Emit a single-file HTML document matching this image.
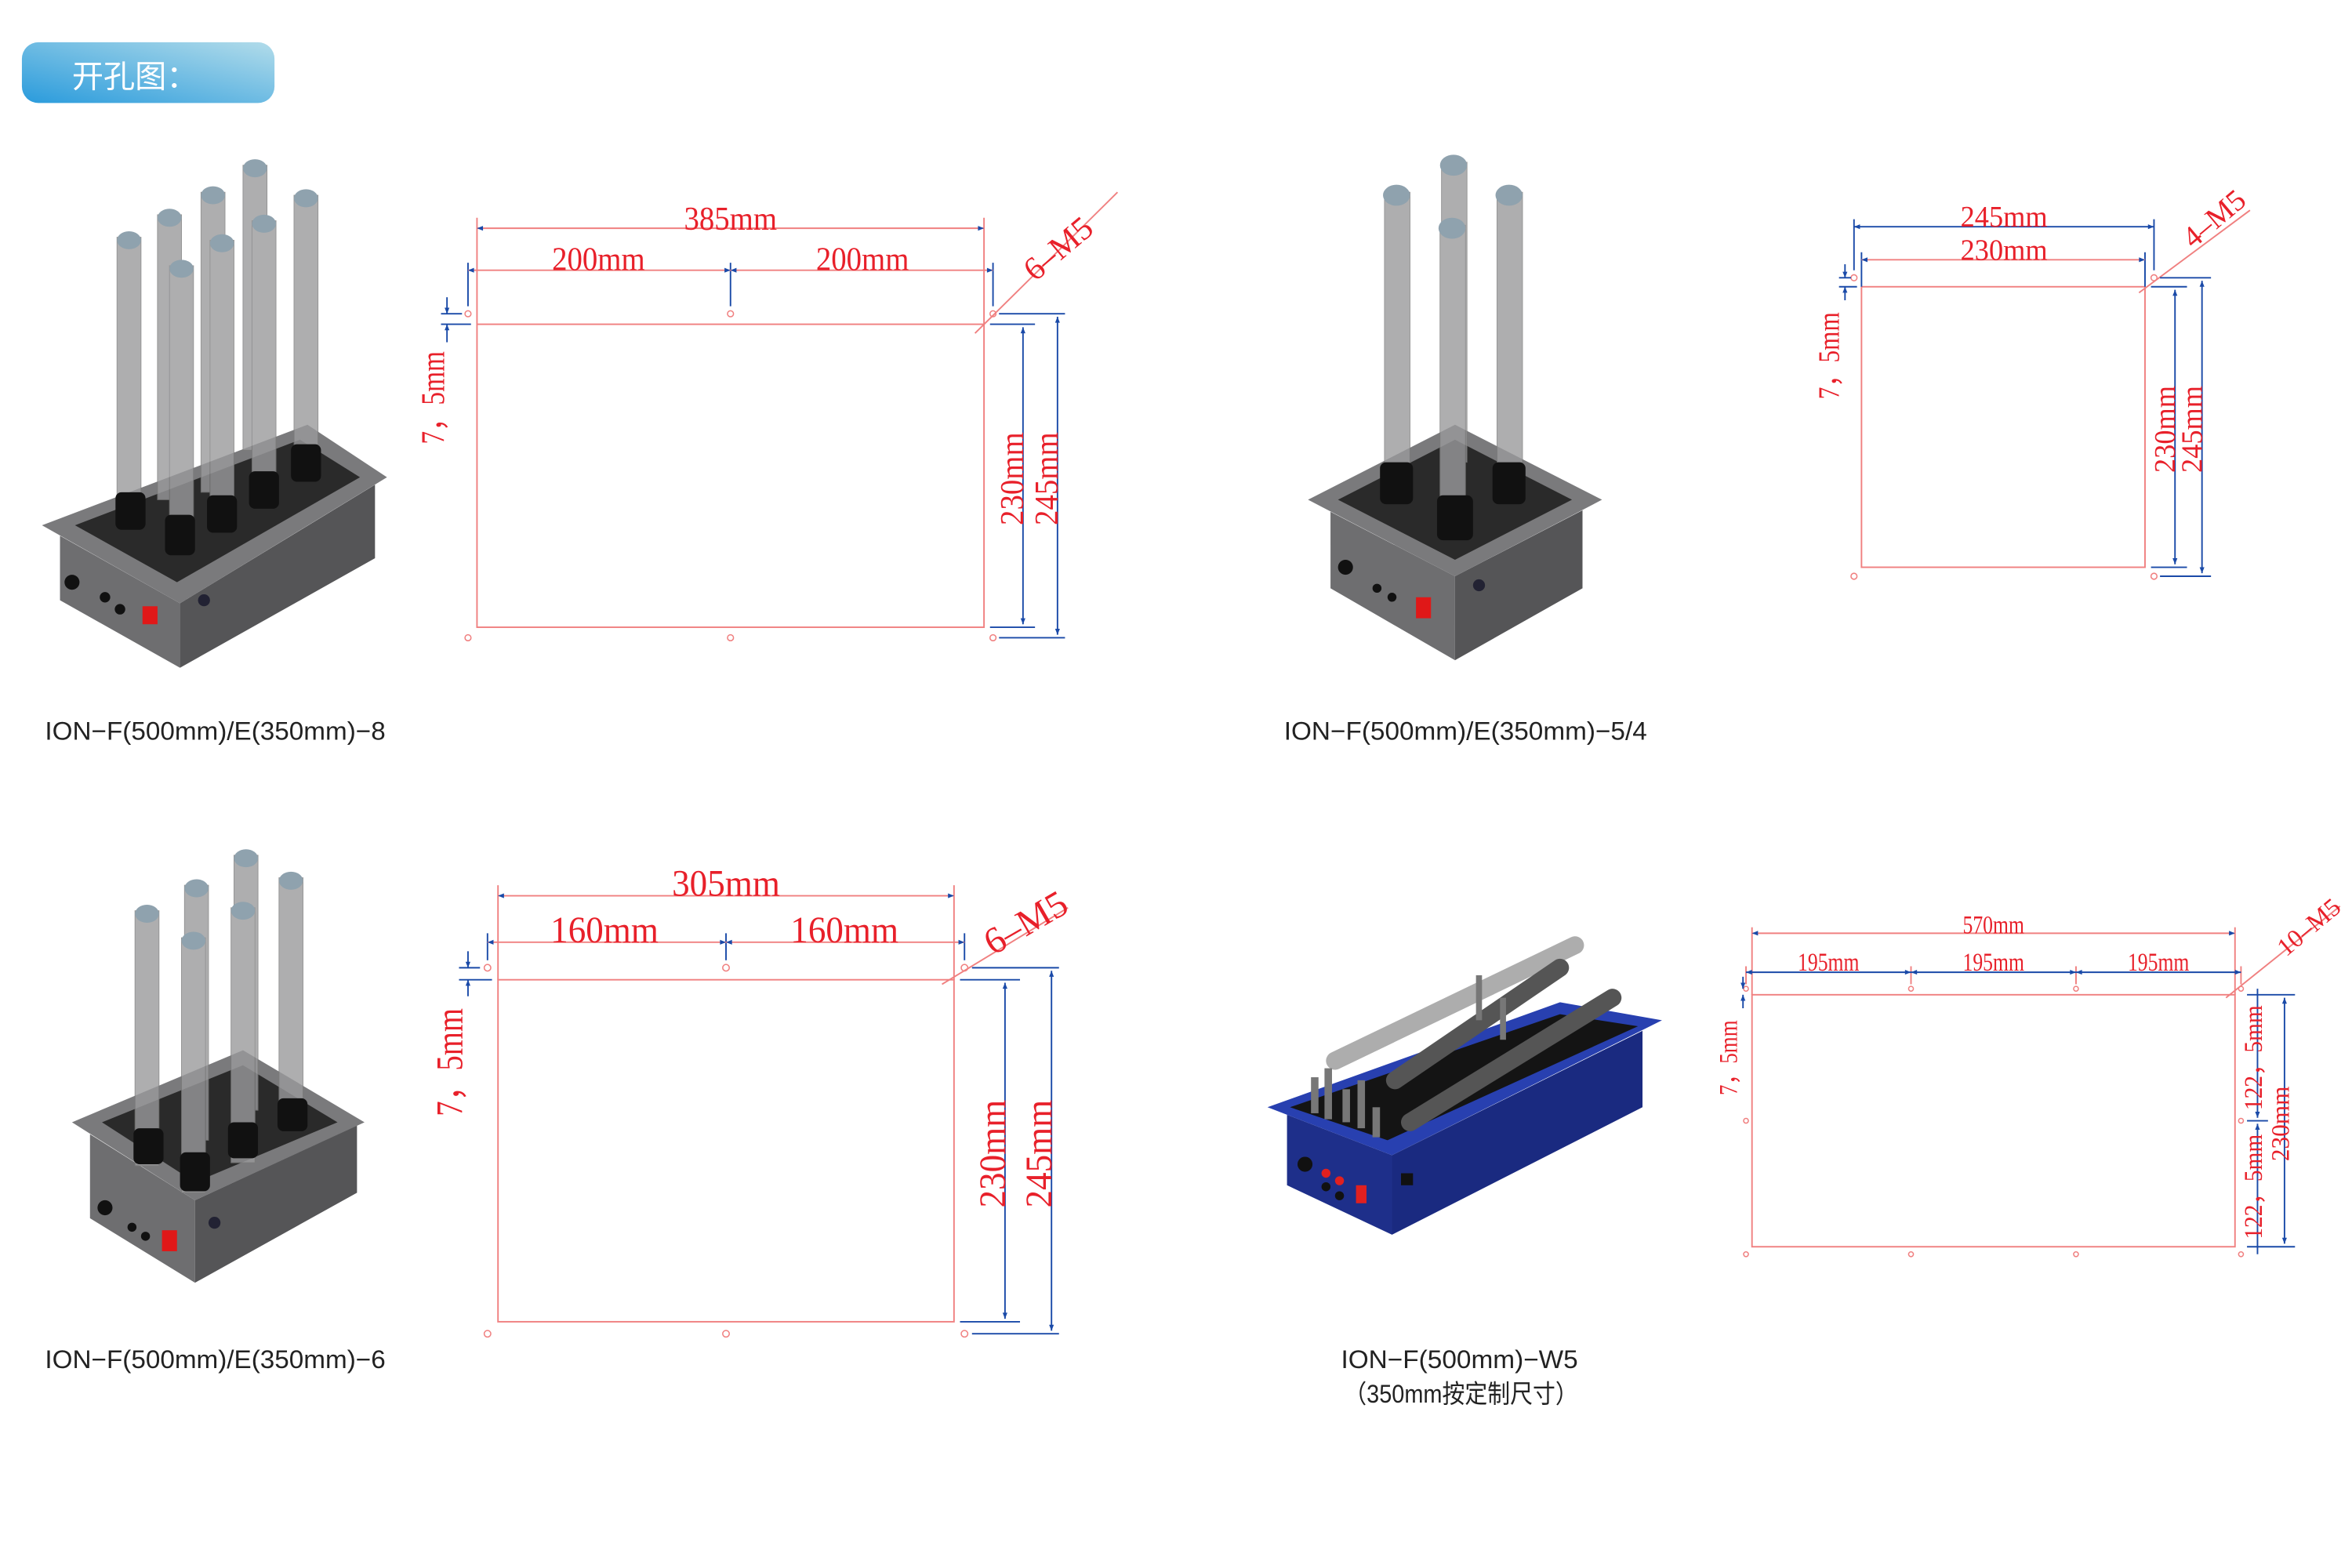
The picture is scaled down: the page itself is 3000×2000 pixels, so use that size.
<!DOCTYPE html>
<html><head><meta charset="utf-8"><style>
html,body{margin:0;padding:0;background:#fff;}
svg{display:block;}
.d{font-family:"Liberation Serif",serif;fill:#e8202a;}
.c{font-family:"Liberation Sans","Noto Sans CJK SC",sans-serif;fill:#222;font-size:17px;}
.r{stroke:#f08080;fill:none;stroke-width:1;}
.b{stroke:#1a4aa8;fill:none;stroke-width:1;}
.h{stroke:#f08080;fill:#fff;stroke-width:0.8;}
.tube{fill:#9a9a9c;opacity:0.8;stroke:#7a7a7a;stroke-width:0.5;}
.cap{fill:#8fa2ae;}
</style></head><body>
<svg width="3000" height="2000" viewBox="0 0 1568 1045" xmlns="http://www.w3.org/2000/svg">
<defs>
<linearGradient id="pill" x1="0" y1="1" x2="1" y2="0"><stop offset="0" stop-color="#2a9bdc"/><stop offset="1" stop-color="#b2dcea"/></linearGradient>
<marker id="a" viewBox="0 0 10 10" refX="10" refY="5" markerWidth="6" markerHeight="4" orient="auto-start-reverse"><path d="M0,1 L10,5 L0,9z" fill="#1a4aa8"/></marker>
</defs>
<rect x="14.6" y="28" width="168.4" height="40.5" rx="11" fill="url(#pill)"/>
<text x="48" y="58" font-family="Liberation Sans,'Noto Sans CJK SC',sans-serif" font-size="21" fill="#fff">开孔图：</text>

<!-- Drawing 1 -->
<rect class="r" x="318" y="216" width="338" height="202"/>
<g class="h"><circle cx="312" cy="209" r="2"/><circle cx="487" cy="209" r="2"/><circle cx="662" cy="209" r="2"/><circle cx="312" cy="425" r="2"/><circle cx="487" cy="425" r="2"/><circle cx="662" cy="425" r="2"/></g>
<line class="r" x1="318" y1="145" x2="318" y2="216"/><line class="r" x1="656" y1="145" x2="656" y2="216"/>
<line class="r" x1="318" y1="152" x2="656" y2="152" marker-start="url(#a)" marker-end="url(#a)"/>
<line class="b" x1="312" y1="175" x2="312" y2="204"/><line class="b" x1="487" y1="175" x2="487" y2="204"/><line class="b" x1="662" y1="175" x2="662" y2="204"/>
<line class="r" x1="312" y1="180" x2="487" y2="180" marker-start="url(#a)" marker-end="url(#a)"/>
<line class="r" x1="487" y1="180" x2="662" y2="180" marker-start="url(#a)" marker-end="url(#a)"/>
<text class="d" x="487" y="153" font-size="22" text-anchor="middle" textLength="62" lengthAdjust="spacingAndGlyphs">385mm</text>
<text class="d" x="399" y="180" font-size="22" text-anchor="middle" textLength="62" lengthAdjust="spacingAndGlyphs">200mm</text>
<text class="d" x="575" y="180" font-size="22" text-anchor="middle" textLength="62" lengthAdjust="spacingAndGlyphs">200mm</text>
<line class="b" x1="294" y1="209" x2="308" y2="209"/><line class="b" x1="294" y1="216" x2="314" y2="216"/>
<line class="b" x1="298" y1="198" x2="298" y2="209" marker-end="url(#a)"/><line class="b" x1="298" y1="228" x2="298" y2="216" marker-end="url(#a)"/>
<text class="d" font-size="22" transform="translate(296,296) rotate(-90)" textLength="62" lengthAdjust="spacingAndGlyphs">7，5mm</text>
<line class="r" x1="745" y1="128" x2="650" y2="222" stroke-width="0.6"/>
<text class="d" font-size="22" transform="translate(690,188) rotate(-40)">6–M5</text>
<line class="b" x1="660" y1="216" x2="690" y2="216"/><line class="b" x1="660" y1="418" x2="690" y2="418"/>
<line class="b" x1="666" y1="209" x2="710" y2="209"/><line class="b" x1="666" y1="425" x2="710" y2="425"/>
<line class="b" x1="682" y1="218" x2="682" y2="416" marker-start="url(#a)" marker-end="url(#a)"/>
<line class="b" x1="705" y1="211" x2="705" y2="423" marker-start="url(#a)" marker-end="url(#a)"/>
<text class="d" font-size="22" transform="translate(682,350) rotate(-90)" textLength="62" lengthAdjust="spacingAndGlyphs">230mm</text>
<text class="d" font-size="22" transform="translate(705,350) rotate(-90)" textLength="62" lengthAdjust="spacingAndGlyphs">245mm</text>

<!-- Drawing 2 -->
<rect class="r" x="1241" y="191" width="189" height="187"/>
<g class="h"><circle cx="1236" cy="185" r="2"/><circle cx="1436" cy="185" r="2"/><circle cx="1236" cy="384" r="2"/><circle cx="1436" cy="384" r="2"/></g>
<line class="b" x1="1236" y1="146" x2="1236" y2="180"/><line class="b" x1="1436" y1="146" x2="1436" y2="180"/>
<line class="b" x1="1241" y1="168" x2="1241" y2="191"/><line class="b" x1="1430" y1="168" x2="1430" y2="191"/>
<line class="b" x1="1236" y1="151" x2="1436" y2="151" marker-start="url(#a)" marker-end="url(#a)"/>
<line class="r" x1="1241" y1="173" x2="1430" y2="173" marker-start="url(#a)" marker-end="url(#a)"/>
<text class="d" x="1336" y="151" font-size="20" text-anchor="middle" textLength="58" lengthAdjust="spacingAndGlyphs">245mm</text>
<text class="d" x="1336" y="173" font-size="20" text-anchor="middle" textLength="58" lengthAdjust="spacingAndGlyphs">230mm</text>
<line class="b" x1="1226" y1="185" x2="1234" y2="185"/><line class="b" x1="1226" y1="191" x2="1238" y2="191"/>
<line class="b" x1="1230" y1="176" x2="1230" y2="185" marker-end="url(#a)"/><line class="b" x1="1230" y1="200" x2="1230" y2="191" marker-end="url(#a)"/>
<text class="d" font-size="20" transform="translate(1226,266) rotate(-90)" textLength="58" lengthAdjust="spacingAndGlyphs">7，5mm</text>
<line class="r" x1="1500" y1="140" x2="1426" y2="195" stroke-width="0.6"/>
<text class="d" font-size="20" transform="translate(1462,166) rotate(-40)">4–M5</text>
<line class="b" x1="1434" y1="191" x2="1458" y2="191"/><line class="b" x1="1440" y1="185" x2="1474" y2="185"/>
<line class="b" x1="1434" y1="378" x2="1458" y2="378"/><line class="b" x1="1440" y1="384" x2="1474" y2="384"/>
<line class="b" x1="1450" y1="193" x2="1450" y2="376" marker-start="url(#a)" marker-end="url(#a)"/>
<line class="b" x1="1468" y1="187" x2="1468" y2="382" marker-start="url(#a)" marker-end="url(#a)"/>
<text class="d" font-size="20" transform="translate(1450,315) rotate(-90)" textLength="58" lengthAdjust="spacingAndGlyphs">230mm</text>
<text class="d" font-size="20" transform="translate(1468,315) rotate(-90)" textLength="58" lengthAdjust="spacingAndGlyphs">245mm</text>

<!-- Drawing 3 -->
<rect class="r" x="332" y="653" width="304" height="228"/>
<g class="h"><circle cx="325" cy="645" r="2.2"/><circle cx="484" cy="645" r="2.2"/><circle cx="643" cy="645" r="2.2"/><circle cx="325" cy="889" r="2.2"/><circle cx="484" cy="889" r="2.2"/><circle cx="643" cy="889" r="2.2"/></g>
<line class="r" x1="332" y1="590" x2="332" y2="653"/><line class="r" x1="636" y1="590" x2="636" y2="653"/>
<line class="r" x1="332" y1="597" x2="636" y2="597" marker-start="url(#a)" marker-end="url(#a)"/>
<line class="b" x1="325" y1="622" x2="325" y2="640"/><line class="b" x1="484" y1="622" x2="484" y2="640"/><line class="b" x1="643" y1="622" x2="643" y2="640"/>
<line class="r" x1="325" y1="628" x2="484" y2="628" marker-start="url(#a)" marker-end="url(#a)"/>
<line class="r" x1="484" y1="628" x2="643" y2="628" marker-start="url(#a)" marker-end="url(#a)"/>
<text class="d" x="484" y="597" font-size="25" text-anchor="middle" textLength="72" lengthAdjust="spacingAndGlyphs">305mm</text>
<text class="d" x="403" y="628" font-size="25" text-anchor="middle" textLength="72" lengthAdjust="spacingAndGlyphs">160mm</text>
<text class="d" x="563" y="628" font-size="25" text-anchor="middle" textLength="72" lengthAdjust="spacingAndGlyphs">160mm</text>
<line class="b" x1="306" y1="645" x2="320" y2="645"/><line class="b" x1="306" y1="653" x2="328" y2="653"/>
<line class="b" x1="312" y1="634" x2="312" y2="645" marker-end="url(#a)"/><line class="b" x1="312" y1="664" x2="312" y2="653" marker-end="url(#a)"/>
<text class="d" font-size="25" transform="translate(308,744) rotate(-90)" textLength="72" lengthAdjust="spacingAndGlyphs">7，5mm</text>
<line class="r" x1="712" y1="605" x2="628" y2="656" stroke-width="0.6"/>
<text class="d" font-size="25" transform="translate(662,637) rotate(-30)">6–M5</text>
<line class="b" x1="640" y1="653" x2="680" y2="653"/><line class="b" x1="648" y1="645" x2="706" y2="645"/>
<line class="b" x1="640" y1="881" x2="680" y2="881"/><line class="b" x1="648" y1="889" x2="706" y2="889"/>
<line class="b" x1="670" y1="655" x2="670" y2="879" marker-start="url(#a)" marker-end="url(#a)"/>
<line class="b" x1="701" y1="647" x2="701" y2="887" marker-start="url(#a)" marker-end="url(#a)"/>
<text class="d" font-size="25" transform="translate(670,805) rotate(-90)" textLength="72" lengthAdjust="spacingAndGlyphs">230mm</text>
<text class="d" font-size="25" transform="translate(701,805) rotate(-90)" textLength="72" lengthAdjust="spacingAndGlyphs">245mm</text>

<!-- Drawing 4 -->
<rect class="r" x="1168" y="663" width="322" height="168"/>
<g class="h"><circle cx="1164" cy="659" r="1.6"/><circle cx="1274" cy="659" r="1.6"/><circle cx="1384" cy="659" r="1.6"/><circle cx="1494" cy="659" r="1.6"/><circle cx="1164" cy="836" r="1.6"/><circle cx="1274" cy="836" r="1.6"/><circle cx="1384" cy="836" r="1.6"/><circle cx="1494" cy="836" r="1.6"/><circle cx="1164" cy="747" r="1.6"/><circle cx="1494" cy="747" r="1.6"/></g>
<line class="r" x1="1168" y1="618" x2="1168" y2="663"/><line class="r" x1="1490" y1="618" x2="1490" y2="663"/>
<line class="r" x1="1168" y1="622" x2="1490" y2="622" marker-start="url(#a)" marker-end="url(#a)"/>
<line class="r" x1="1164" y1="644" x2="1164" y2="656"/><line class="r" x1="1274" y1="644" x2="1274" y2="656"/><line class="r" x1="1384" y1="644" x2="1384" y2="656"/><line class="r" x1="1494" y1="644" x2="1494" y2="656"/>
<line class="b" x1="1164" y1="648" x2="1274" y2="648" stroke-width="1.3" marker-start="url(#a)" marker-end="url(#a)"/>
<line class="b" x1="1274" y1="648" x2="1384" y2="648" stroke-width="1.3" marker-start="url(#a)" marker-end="url(#a)"/>
<line class="b" x1="1384" y1="648" x2="1494" y2="648" stroke-width="1.3" marker-start="url(#a)" marker-end="url(#a)"/>
<text class="d" x="1329" y="622" font-size="17" text-anchor="middle" textLength="41" lengthAdjust="spacingAndGlyphs">570mm</text>
<text class="d" x="1219" y="647" font-size="17" text-anchor="middle" textLength="41" lengthAdjust="spacingAndGlyphs">195mm</text>
<text class="d" x="1329" y="647" font-size="17" text-anchor="middle" textLength="41" lengthAdjust="spacingAndGlyphs">195mm</text>
<text class="d" x="1439" y="647" font-size="17" text-anchor="middle" textLength="41" lengthAdjust="spacingAndGlyphs">195mm</text>
<line class="b" x1="1162" y1="651" x2="1162" y2="659" marker-end="url(#a)"/><line class="b" x1="1162" y1="672" x2="1162" y2="663" marker-end="url(#a)"/>
<text class="d" font-size="17" transform="translate(1158,730) rotate(-90)" textLength="50" lengthAdjust="spacingAndGlyphs">7，5mm</text>
<line class="r" x1="1560" y1="604" x2="1484" y2="665" stroke-width="0.6"/>
<text class="d" font-size="17" transform="translate(1524,638) rotate(-40)">10–M5</text>
<line class="b" x1="1498" y1="747" x2="1512" y2="747"/><line class="b" x1="1498" y1="663" x2="1530" y2="663"/><line class="b" x1="1498" y1="831" x2="1530" y2="831"/>
<line class="b" x1="1505" y1="659" x2="1505" y2="745" marker-end="url(#a)"/><line class="b" x1="1505" y1="836" x2="1505" y2="749" marker-end="url(#a)"/>
<line class="b" x1="1523" y1="665" x2="1523" y2="829" marker-start="url(#a)" marker-end="url(#a)"/>
<text class="d" font-size="17" transform="translate(1508,740) rotate(-90)" textLength="70" lengthAdjust="spacingAndGlyphs">122，5mm</text>
<text class="d" font-size="17" transform="translate(1508,826) rotate(-90)" textLength="70" lengthAdjust="spacingAndGlyphs">122，5mm</text>
<text class="d" font-size="17" transform="translate(1526,774) rotate(-90)" textLength="50" lengthAdjust="spacingAndGlyphs">230mm</text>

<!-- Machine 1 -->
<g>
<polygon points="40,357 120,402 120,445 40,400" fill="#6e6e70"/>
<polygon points="120,402 250,323 250,372 120,445" fill="#555557"/>
<polygon points="28,350 205,283 258,318 120,402" fill="#7a7a7c"/>
<polygon points="50,350 200,293 240,318 118,388" fill="#2a2a2a"/>
<circle cx="48" cy="388" r="5" fill="#111"/><circle cx="70" cy="398" r="3.5" fill="#111"/><circle cx="80" cy="406" r="3.5" fill="#111"/>
<rect x="95" y="404" width="10" height="12" fill="#e01818"/><circle cx="136" cy="400" r="4" fill="#223"/>
<g class="tube"><rect x="162" y="110" width="16" height="190"/><rect x="134" y="128" width="16" height="200"/><rect x="196" y="130" width="16" height="170"/><rect x="105" y="143" width="16" height="190"/><rect x="168" y="147" width="16" height="180"/><rect x="78" y="158" width="16" height="185"/><rect x="140" y="160" width="16" height="185"/><rect x="113" y="177" width="16" height="180"/></g>
<g class="cap"><ellipse cx="170" cy="112" rx="8" ry="6"/><ellipse cx="142" cy="130" rx="8" ry="6"/><ellipse cx="204" cy="132" rx="8" ry="6"/><ellipse cx="113" cy="145" rx="8" ry="6"/><ellipse cx="176" cy="149" rx="8" ry="6"/><ellipse cx="86" cy="160" rx="8" ry="6"/><ellipse cx="148" cy="162" rx="8" ry="6"/><ellipse cx="121" cy="179" rx="8" ry="6"/></g>
<g fill="#111"><rect x="194" y="296" width="20" height="25" rx="4"/><rect x="166" y="314" width="20" height="25" rx="4"/><rect x="138" y="330" width="20" height="25" rx="4"/><rect x="77" y="328" width="20" height="25" rx="4"/><rect x="110" y="343" width="20" height="27" rx="4"/></g>
</g>
<!-- Machine 2 -->
<g>
<polygon points="887,341 970,384 970,440 887,392" fill="#6e6e70"/>
<polygon points="970,384 1055,340 1055,392 970,440" fill="#555557"/>
<polygon points="872,333 970,283 1068,333 970,384" fill="#7a7a7c"/>
<polygon points="892,333 970,293 1048,333 970,373" fill="#2a2a2a"/>
<circle cx="897" cy="378" r="5" fill="#111"/><circle cx="918" cy="392" r="3" fill="#111"/><circle cx="928" cy="398" r="3" fill="#111"/>
<rect x="944" y="398" width="10" height="14" fill="#e01818"/><circle cx="986" cy="390" r="4" fill="#223"/>
<g class="tube"><rect x="961" y="108" width="17" height="200"/><rect x="923" y="128" width="17" height="190"/><rect x="998" y="128" width="17" height="190"/><rect x="960" y="150" width="17" height="190"/></g>
<g class="cap"><ellipse cx="969" cy="110" rx="9" ry="7"/><ellipse cx="931" cy="130" rx="9" ry="7"/><ellipse cx="1006" cy="130" rx="9" ry="7"/><ellipse cx="968" cy="152" rx="9" ry="7"/></g>
<g fill="#111"><rect x="920" y="308" width="22" height="28" rx="4"/><rect x="995" y="308" width="22" height="28" rx="4"/><rect x="958" y="330" width="24" height="30" rx="4"/></g>
</g>
<!-- Machine 3 -->
<g>
<polygon points="60,756 130,800 130,855 60,812" fill="#6e6e70"/>
<polygon points="130,800 238,750 238,795 130,855" fill="#555557"/>
<polygon points="48,748 162,700 243,748 130,800" fill="#7a7a7c"/>
<polygon points="68,748 162,710 225,748 130,788" fill="#2a2a2a"/>
<circle cx="70" cy="805" r="5" fill="#111"/><circle cx="88" cy="818" r="3" fill="#111"/><circle cx="97" cy="824" r="3" fill="#111"/>
<rect x="108" y="820" width="10" height="14" fill="#e01818"/><circle cx="143" cy="815" r="4" fill="#223"/>
<g class="tube"><rect x="156" y="570" width="16" height="170"/><rect x="186" y="585" width="16" height="160"/><rect x="123" y="590" width="16" height="170"/><rect x="154" y="605" width="16" height="170"/><rect x="90" y="607" width="16" height="170"/><rect x="121" y="625" width="16" height="170"/></g>
<g class="cap"><ellipse cx="164" cy="572" rx="8" ry="6"/><ellipse cx="194" cy="587" rx="8" ry="6"/><ellipse cx="131" cy="592" rx="8" ry="6"/><ellipse cx="162" cy="607" rx="8" ry="6"/><ellipse cx="98" cy="609" rx="8" ry="6"/><ellipse cx="129" cy="627" rx="8" ry="6"/></g>
<g fill="#111"><rect x="185" y="732" width="20" height="22" rx="4"/><rect x="152" y="748" width="20" height="24" rx="4"/><rect x="89" y="752" width="20" height="24" rx="4"/><rect x="120" y="768" width="20" height="26" rx="4"/></g>
</g>
<!-- Machine 4 -->
<g>
<polygon points="858,743 928,770 928,823 858,790" fill="#1e2f8a"/>
<polygon points="928,770 1095,687 1095,738 928,823" fill="#1a2a80"/>
<polygon points="845,738 1040,668 1108,680 928,770" fill="#2840b0"/>
<polygon points="860,738 1040,676 1092,684 925,760" fill="#141414"/>
<circle cx="870" cy="776" r="5" fill="#111"/><circle cx="884" cy="782" r="3" fill="#e02020"/><circle cx="893" cy="787" r="3" fill="#e02020"/><circle cx="884" cy="791" r="3" fill="#111"/><circle cx="893" cy="797" r="3" fill="#111"/>
<rect x="904" y="790" width="7" height="12" fill="#e02020"/><rect x="934" y="782" width="8" height="8" fill="#111"/>
<g stroke-linecap="round"><line x1="890" y1="707" x2="1050" y2="630" stroke="#999" stroke-width="12" opacity="0.8"/><line x1="930" y1="720" x2="1040" y2="645" stroke="#555" stroke-width="12"/><line x1="940" y1="748" x2="1075" y2="665" stroke="#555" stroke-width="12"/></g>
<g fill="#777"><rect x="874" y="718" width="5" height="24"/><rect x="883" y="712" width="5" height="34"/><rect x="895" y="726" width="5" height="22"/><rect x="905" y="720" width="5" height="32"/><rect x="915" y="738" width="5" height="20"/><rect x="984" y="650" width="4" height="30"/><rect x="1000" y="665" width="4" height="28"/></g>
</g>

<text class="c" x="30" y="493" textLength="227" lengthAdjust="spacingAndGlyphs">ION−F(500mm)/E(350mm)−8</text>
<text class="c" x="856" y="493" textLength="242" lengthAdjust="spacingAndGlyphs">ION−F(500mm)/E(350mm)−5/4</text>
<text class="c" x="30" y="912" textLength="227" lengthAdjust="spacingAndGlyphs">ION−F(500mm)/E(350mm)−6</text>
<text class="c" x="894" y="912" textLength="158" lengthAdjust="spacingAndGlyphs">ION−F(500mm)−W5</text>
<text class="c" x="896" y="935" textLength="156" lengthAdjust="spacingAndGlyphs">（350mm按定制尺寸）</text>
</svg>
</body></html>
